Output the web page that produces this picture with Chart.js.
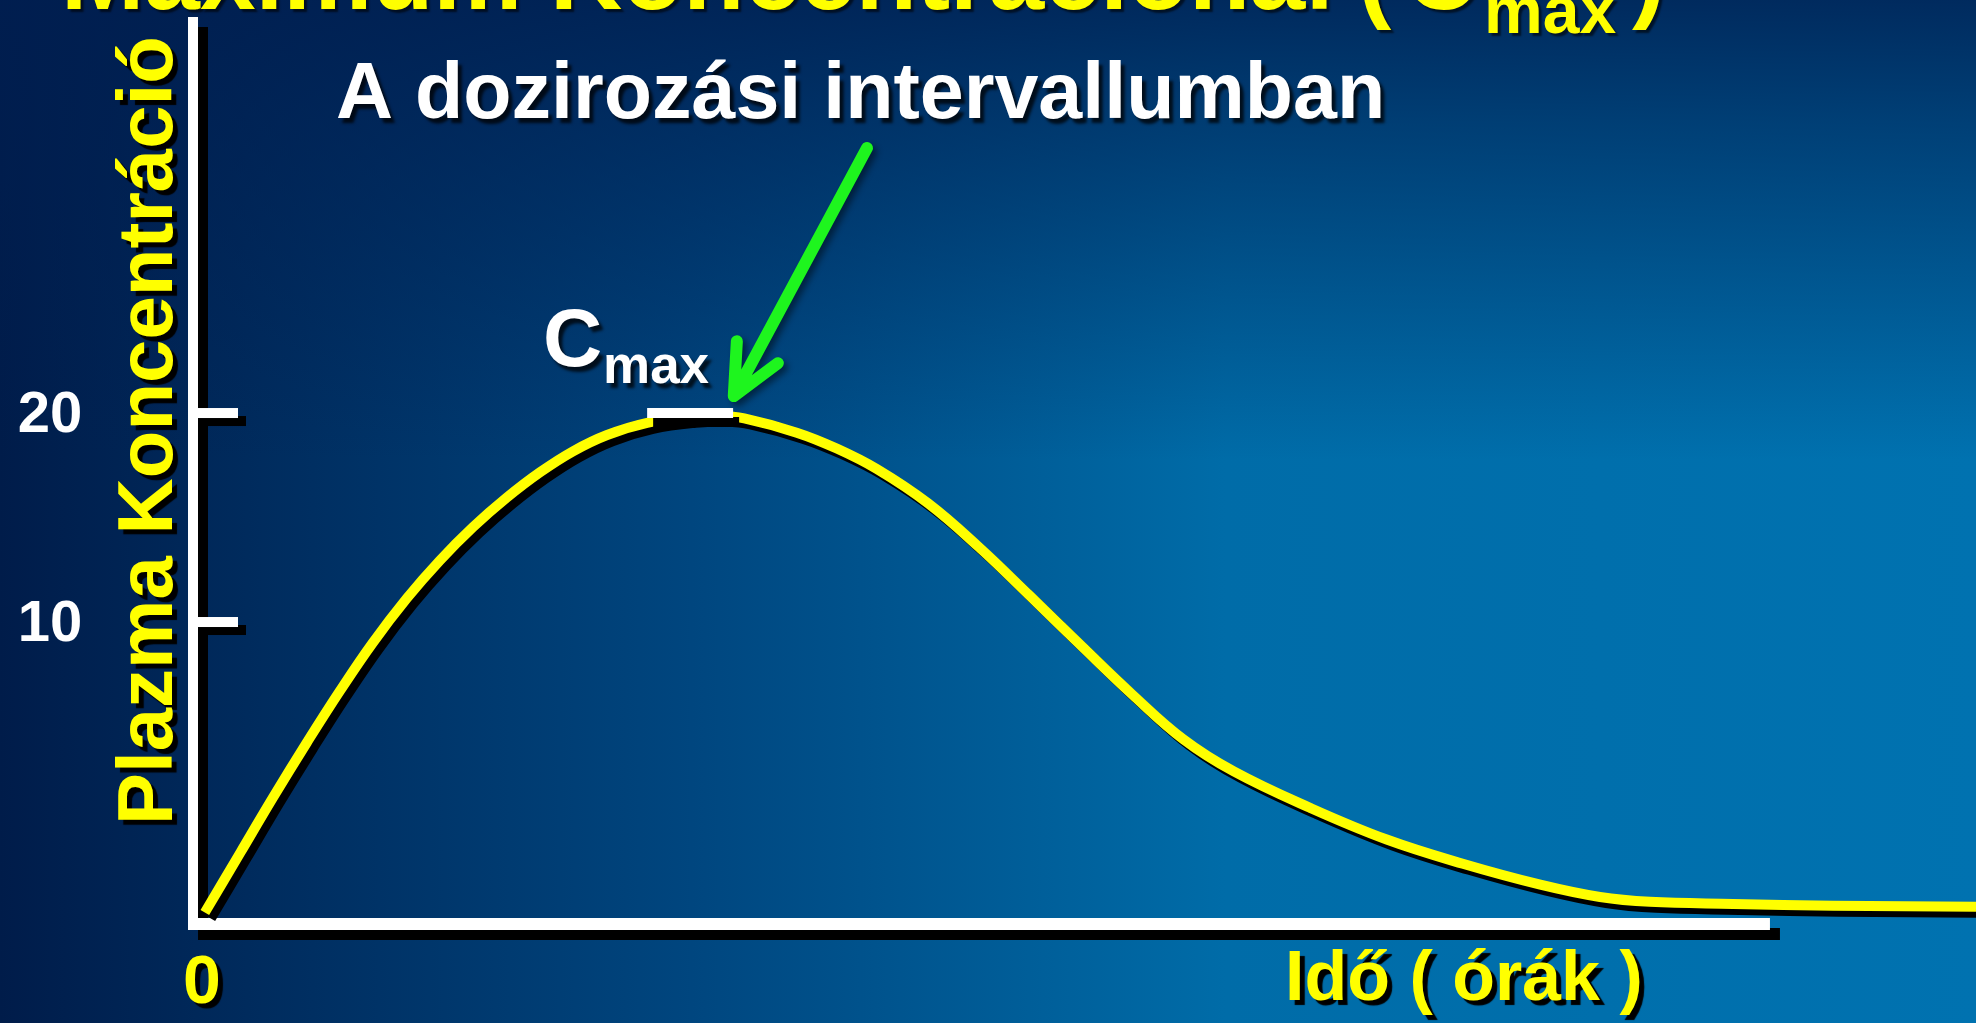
<!DOCTYPE html>
<html>
<head>
<meta charset="utf-8">
<script src="https://cdn.jsdelivr.net/npm/chart.js@4.4.1/dist/chart.umd.min.js"></script>
<style>
  html, body { margin: 0; padding: 0; overflow: hidden; background: #002050; }
  #wrap { width: 1976px; height: 1023px; position: relative; }
</style>
</head>
<body>
<div id="wrap"><canvas id="c"></canvas></div>
<script>
// ---------------- data ----------------
const hours = [0.15, 0.69, 1.19, 1.71, 2.21, 2.71, 3.23, 3.73, 4.24, 4.75, 5.26, 5.76, 6.28, 6.89, 7.54, 8.0, 8.37, 9.17, 9.78, 10.39, 11.17, 11.95, 12.72, 13.5, 14.28, 15.06, 15.83, 16.99, 18.16, 19.32, 20.5, 21.41, 22.17, 23.44, 24.96, 27.14];
const concentration = [-3.9, -1.04, 1.61, 4.26, 6.71, 9.01, 11.14, 12.94, 14.55, 15.95, 17.17, 18.17, 18.95, 19.53, 19.82, 19.87, 19.74, 19.06, 18.3, 17.32, 15.68, 13.57, 11.26, 8.88, 6.54, 4.39, 2.85, 1.11, -0.41, -1.57, -2.57, -3.16, -3.39, -3.49, -3.58, -3.62];
const cmaxHours = [6.89, 8.2];
const cmaxLevel = [20, 20];
const yTickValues = [10, 20];
const xTickValues = [0];
const xAxisEnd = 24;
const arrowFrom = [10.24, 32.68];
const arrowTo = [8.21, 20.81];
const xRange = [0, 27.14];
const yRange = [-4.45, 38.95];

const titleParts = ['Maximum Koncentrációnál', '(', 'C', 'max', ')'];
const noteText = 'A dozirozási intervallumban';
const cmaxLabel = ['C', 'max'];
const yTitle = 'Plazma Koncentráció';
const xTitle = 'Idő ( órák )';

const FONT = '"Liberation Sans", Arial, Helvetica, sans-serif';
const YELLOW = '#FFFF00';

// ---------------- plugins ----------------
const bgPlugin = {
  id: 'bg',
  beforeDraw(chart) {
    const { ctx, width, height } = chart;
    ctx.save();
    const g = ctx.createLinearGradient(0, 0, width, 0);
    g.addColorStop(0, '#001C4A');
    g.addColorStop(0.35, '#00467F');
    g.addColorStop(0.62, '#006CA8');
    g.addColorStop(1, '#0072B0');
    ctx.fillStyle = g;
    ctx.fillRect(0, 0, width, height);
    const v = ctx.createLinearGradient(0, 0, 0, height);
    v.addColorStop(0, 'rgba(0,30,80,0.85)');
    v.addColorStop(0.12, 'rgba(0,30,80,0.6)');
    v.addColorStop(0.45, 'rgba(0,30,80,0)');
    v.addColorStop(1, 'rgba(0,30,80,0)');
    ctx.fillStyle = v;
    ctx.fillRect(0, 0, width, height);
    ctx.restore();
  }
};

const axesPlugin = {
  id: 'axes',
  beforeDatasetsDraw(chart) {
    const ctx = chart.ctx, xs = chart.scales.x, ys = chart.scales.y;
    const x0 = xs.getPixelForValue(0) - 2;
    const yb = ys.getPixelForValue(ys.min);
    const yt = ys.getPixelForValue(ys.max);
    const xe = xs.getPixelForValue(xAxisEnd);
    const shapes = [
      [x0 - 5, yt, 10, yb - yt + 6, 10],
      [x0 - 5, yb - 6, xe - (x0 - 5), 12, 10]
    ];
    yTickValues.forEach(v => {
      const y = ys.getPixelForValue(v);
      shapes.push([x0 + 5, y - 5, 40, 10, 8]);
    });
    ctx.save();
    ctx.fillStyle = '#000';
    shapes.forEach(s => ctx.fillRect(s[0] + s[4], s[1] + s[4], s[2], s[3]));
    ctx.fillStyle = '#FFFFFF';
    shapes.forEach(s => ctx.fillRect(s[0], s[1], s[2], s[3]));
    // tick labels
    ctx.font = 'bold 58px ' + FONT;
    ctx.textAlign = 'center';
    ctx.textBaseline = 'middle';
    yTickValues.forEach(v => {
      ctx.fillText(String(v), 50, ys.getPixelForValue(v) + 3);
    });
    ctx.restore();
  }
};

const shadowPlugin = {
  id: 'lineShadow',
  beforeDatasetDraw(chart, args) {
    const ctx = chart.ctx;
    ctx.save();
    ctx.shadowColor = '#000';
    ctx.shadowBlur = 0;
    if (args.index === 0) { ctx.shadowOffsetX = 6; ctx.shadowOffsetY = 6; }
    else { ctx.shadowOffsetX = 6; ctx.shadowOffsetY = 9; }
  },
  afterDatasetDraw(chart) {
    chart.ctx.restore();
  }
};

const annotPlugin = {
  id: 'annot',
  afterDraw(chart) {
    const ctx = chart.ctx, xs = chart.scales.x, ys = chart.scales.y;
    ctx.save();
    // arrow
    const ax = xs.getPixelForValue(arrowFrom[0]), ay = ys.getPixelForValue(arrowFrom[1]);
    const tx = xs.getPixelForValue(arrowTo[0]), ty = ys.getPixelForValue(arrowTo[1]);
    const ang = Math.atan2(ay - ty, ax - tx);
    const wing = 55, spread = 25 * Math.PI / 180;
    ctx.strokeStyle = '#1EF51E';
    ctx.lineWidth = 12;
    ctx.lineCap = 'round';
    ctx.lineJoin = 'round';
    ctx.shadowColor = 'rgba(0,0,0,0.45)';
    ctx.shadowBlur = 6;
    ctx.shadowOffsetX = 4;
    ctx.shadowOffsetY = 4;
    ctx.beginPath();
    ctx.moveTo(ax, ay);
    ctx.lineTo(tx, ty);
    ctx.moveTo(tx + wing * Math.cos(ang - spread), ty + wing * Math.sin(ang - spread));
    ctx.lineTo(tx, ty);
    ctx.lineTo(tx + wing * Math.cos(ang + spread), ty + wing * Math.sin(ang + spread));
    ctx.stroke();
    ctx.restore();

    // texts
    ctx.save();
    ctx.textBaseline = 'alphabetic';
    ctx.textAlign = 'left';
    // title (cut off at the top)
    ctx.fillStyle = YELLOW;
    ctx.shadowColor = 'rgba(0,0,0,0.6)';
    ctx.shadowOffsetX = 3; ctx.shadowOffsetY = 3; ctx.shadowBlur = 2;
    ctx.font = 'bold 100px ' + FONT;
    ctx.fillText(titleParts[0], 61, 9);
    ctx.fillText(titleParts[1], 1358, 9);
    ctx.fillText(titleParts[2], 1405, 9);
    ctx.font = 'bold 66px ' + FONT;
    ctx.fillText(titleParts[3], 1484, 33);
    ctx.font = 'bold 100px ' + FONT;
    ctx.fillText(titleParts[4], 1632, 9);

    // note
    ctx.fillStyle = '#FFFFFF';
    ctx.shadowColor = 'rgba(0,0,0,0.75)';
    ctx.shadowOffsetX = 4; ctx.shadowOffsetY = 5; ctx.shadowBlur = 3;
    ctx.font = 'bold 79px ' + FONT;
    ctx.fillText(noteText, 336, 118);

    // Cmax label
    ctx.font = 'bold 82px ' + FONT;
    ctx.fillText(cmaxLabel[0], 543, 366);
    ctx.font = 'bold 53px ' + FONT;
    ctx.fillText(cmaxLabel[1], 603, 383);

    // axis titles
    ctx.fillStyle = YELLOW;
    ctx.shadowColor = '#000';
    ctx.shadowOffsetX = 5; ctx.shadowOffsetY = 5; ctx.shadowBlur = 1;
    ctx.font = 'bold 70px ' + FONT;
    ctx.fillText(xTitle, 1285, 1000);
    ctx.font = 'bold 68px ' + FONT;
    ctx.textAlign = 'center';
    xTickValues.forEach(v => ctx.fillText(String(v), xs.getPixelForValue(v) + 7, 1003));
    ctx.textAlign = 'left';
    ctx.save();
    ctx.translate(172, 825);
    ctx.rotate(-Math.PI / 2);
    ctx.font = 'bold 78px ' + FONT;
    ctx.fillText(yTitle, 0, 0);
    ctx.restore();
    ctx.restore();
  }
};

// ---------------- chart ----------------
new Chart(document.getElementById('c'), {
  type: 'line',
  data: {
    datasets: [
      {
        label: 'Plazma koncentráció',
        data: hours.map((h, i) => ({ x: h, y: concentration[i] })),
        borderColor: YELLOW,
        borderWidth: 10,
        pointRadius: 0,
        tension: 0.4,
        borderJoinStyle: 'round',
        fill: false,
        order: 2
      },
      {
        label: 'Cmax',
        data: cmaxHours.map((h, i) => ({ x: h, y: cmaxLevel[i] })),
        borderColor: '#FFFFFF',
        borderWidth: 10,
        borderCapStyle: 'butt',
        pointRadius: 0,
        fill: false,
        order: 1
      }
    ]
  },
  options: {
    responsive: true,
    maintainAspectRatio: false,
    animation: false,
    events: [],
    layout: { padding: { left: 195, right: 0, top: 17, bottom: 99 } },
    plugins: { legend: { display: false }, tooltip: { enabled: false }, title: { display: false } },
    scales: {
      x: { type: 'linear', display: false, min: xRange[0], max: xRange[1] },
      y: { type: 'linear', display: false, min: yRange[0], max: yRange[1] }
    }
  },
  plugins: [bgPlugin, axesPlugin, shadowPlugin, annotPlugin]
});
</script>
</body>
</html>
